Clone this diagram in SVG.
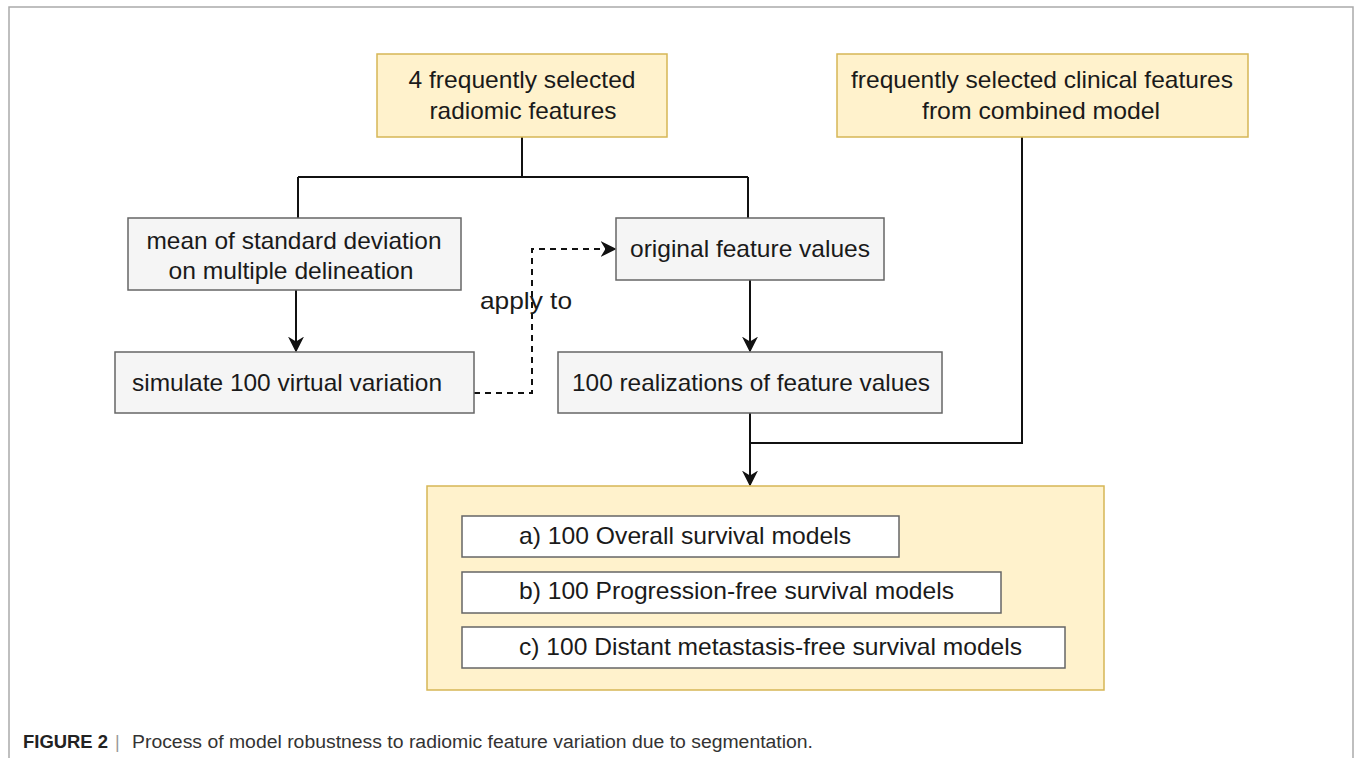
<svg xmlns="http://www.w3.org/2000/svg" width="1357" height="758" viewBox="0 0 1357 758">
  <style>
    .yel { fill: #fff2cc; stroke: #d6b656; stroke-width: 1.5; }
    .gry { fill: #f5f5f5; stroke: #666666; stroke-width: 1.5; }
    .wht { fill: #ffffff; stroke: #666666; stroke-width: 1.5; }
    .t { font-family: "Liberation Sans", Arial, sans-serif; font-size: 24px; fill: #1a1a1a; text-anchor: middle; }
    .l { text-anchor: start; }
    .ln { fill: none; stroke: #111111; stroke-width: 2; }
    .dash { fill: none; stroke: #111111; stroke-width: 2; stroke-dasharray: 6 5; }
    .cap { font-family: "Liberation Sans", Arial, sans-serif; font-size: 18px; fill: #333333; }
  </style>
  <defs>
    <marker id="arrow" viewBox="0 0 10 10" refX="9" refY="5" markerWidth="8" markerHeight="8" orient="auto" markerUnits="strokeWidth">
      <path d="M0,0 L10,5 L0,10 L3,5 Z" fill="#111111"/>
    </marker>
  </defs>

  <rect width="1357" height="758" fill="#ffffff"/>
  <!-- figure frame -->
  <path d="M9,770 V7 H1353 V770" fill="none" stroke="#aaaaaa" stroke-width="1.5"/>

  <g id="connectors">
    <path class="ln" d="M522,137 V177 M298,177 H748 M298,177 V218 M748,177 V218"/>
    <path class="ln" d="M296,290 V351" marker-end="url(#arrow)"/>
    <path class="ln" d="M750,280 V351" marker-end="url(#arrow)"/>
    <path class="dash" d="M474,393 H532 V249 H615" marker-end="url(#arrow)"/>
    <path class="ln" d="M750,413 V485" marker-end="url(#arrow)"/>
    <path class="ln" d="M1022,137 V443 H750"/>
    <text class="t" x="526" y="309" textLength="92" lengthAdjust="spacingAndGlyphs">apply to</text>
  </g>

  <g id="radiomic">
    <rect class="yel" x="377" y="54" width="290" height="83"/>
    <text class="t" x="522" y="88" textLength="227" lengthAdjust="spacingAndGlyphs">4 frequently selected</text>
    <text class="t" x="523" y="119" textLength="187" lengthAdjust="spacingAndGlyphs">radiomic features</text>
  </g>
  <g id="clinical">
    <rect class="yel" x="837" y="54" width="411" height="83"/>
    <text class="t" x="1042" y="88" textLength="382" lengthAdjust="spacingAndGlyphs">frequently selected clinical features</text>
    <text class="t" x="1041" y="119" textLength="238" lengthAdjust="spacingAndGlyphs">from combined model</text>
  </g>
  <g id="meanstd">
    <rect class="gry" x="128" y="218" width="333" height="72"/>
    <text class="t" x="294" y="249" textLength="295" lengthAdjust="spacingAndGlyphs">mean of standard deviation</text>
    <text class="t" x="291" y="279" textLength="245" lengthAdjust="spacingAndGlyphs">on multiple delineation</text>
  </g>
  <g id="original">
    <rect class="gry" x="616" y="218" width="268" height="62"/>
    <text class="t" x="750" y="257" textLength="240" lengthAdjust="spacingAndGlyphs">original feature values</text>
  </g>
  <g id="simulate">
    <rect class="gry" x="115" y="352" width="359" height="61"/>
    <text class="t" x="287" y="391" textLength="310" lengthAdjust="spacingAndGlyphs">simulate 100 virtual variation</text>
  </g>
  <g id="realizations">
    <rect class="gry" x="558" y="352" width="384" height="61"/>
    <text class="t" x="751" y="391" textLength="358" lengthAdjust="spacingAndGlyphs">100 realizations of feature values</text>
  </g>
  <g id="models">
    <rect class="yel" x="427" y="486" width="677" height="204"/>
    <rect class="wht" x="462" y="516" width="437" height="41"/>
    <text class="t l" x="519" y="544" textLength="332" lengthAdjust="spacingAndGlyphs">a) 100 Overall survival models</text>
    <rect class="wht" x="462" y="572" width="539" height="41"/>
    <text class="t l" x="519" y="599" textLength="435" lengthAdjust="spacingAndGlyphs">b) 100 Progression-free survival models</text>
    <rect class="wht" x="462" y="627" width="603" height="41"/>
    <text class="t l" x="519" y="655" textLength="503" lengthAdjust="spacingAndGlyphs">c) 100 Distant metastasis-free survival models</text>
  </g>

  <text class="cap" y="748"><tspan x="23" font-weight="bold" fill="#222222" textLength="85" lengthAdjust="spacingAndGlyphs">FIGURE 2</tspan><tspan x="115" fill="#999999">|</tspan><tspan x="132" textLength="681" lengthAdjust="spacingAndGlyphs">Process of model robustness to radiomic feature variation due to segmentation.</tspan></text>
</svg>
